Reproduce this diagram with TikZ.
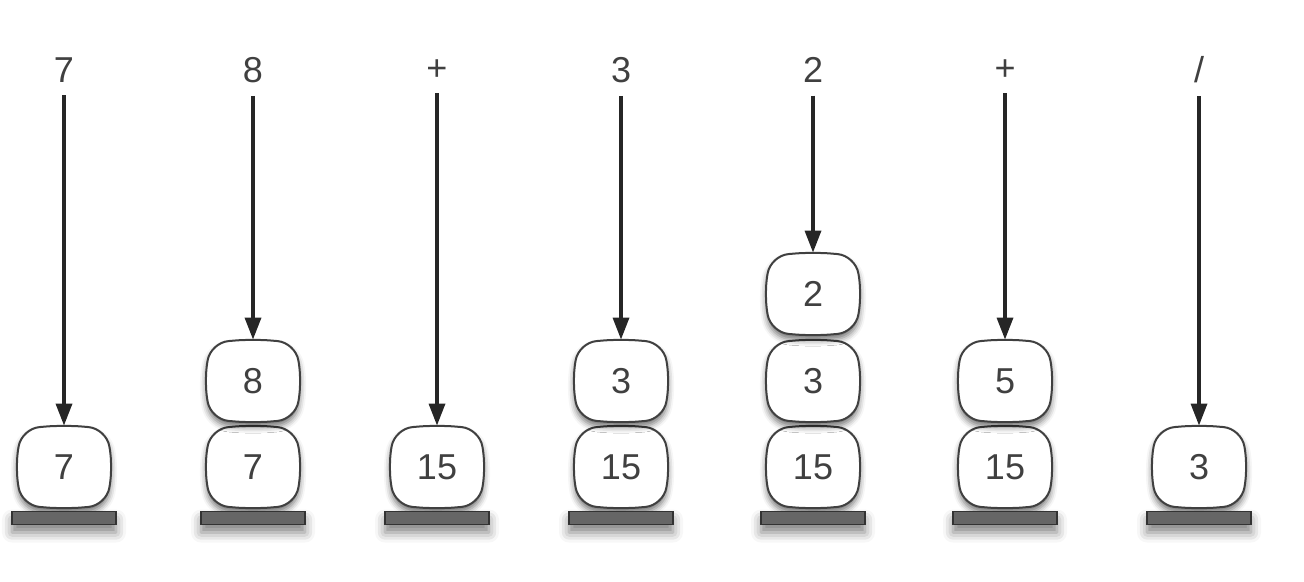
\documentclass[tikz,border=0pt]{standalone}
\usepackage{fontspec}
\setsansfont{Liberation Sans}
\usetikzlibrary{arrows.meta,calc,backgrounds,shadows.blur}

\begin{document}
\begin{tikzpicture}[x=0.5pt, y=-0.5pt,
    every node/.style={font=\sffamily\fontsize{18}{18}\selectfont, text=black!75},
    cell/.style={minimum width=42pt, minimum height=38pt, inner sep=0pt},
    barrel/.style={draw=black!75, line width=1pt, fill=white, rounded corners=9pt,
                   blur shadow={shadow xshift=0pt, shadow yshift=-2.5pt, shadow blur radius=3pt,
                                shadow opacity=55}},
    stand/.style={fill=black!60, draw=black!80, line width=0.6pt, minimum width=52pt,
                  minimum height=6.5pt, inner sep=0pt,
                  blur shadow={shadow xshift=0pt, shadow yshift=-4pt, shadow blur radius=5pt,
                               shadow opacity=50}},
    push/.style={-{Triangle[length=11pt, width=8pt]}, line width=1.7pt, black!85,
                 shorten <=3pt, shorten >=1.5pt}]
    \useasboundingbox (0,0) rectangle (1304,582);
    % input tokens
    \node (t1) at (64,70) {7};
    \node (t2) at (253,70) {8};
    \node (t3) at (437,70) {+};
    \node (t4) at (621,70) {3};
    \node (t5) at (813,70) {2};
    \node (t6) at (1005,70) {+};
    \node (t7) at (1199,70) {/};
    % stands
    \node[stand] (b1) at (64,518) {};
    \node[stand] (b2) at (253,518) {};
    \node[stand] (b3) at (437,518) {};
    \node[stand] (b4) at (621,518) {};
    \node[stand] (b5) at (813,518) {};
    \node[stand] (b6) at (1005,518) {};
    \node[stand] (b7) at (1199,518) {};
    % stack cells
    \node[cell] (c1a) at (64,467) {7};
    \node[cell] (c2a) at (253,467) {7};
    \node[cell] (c2b) at (253,381) {8};
    \node[cell] (c3a) at (437,467) {15};
    \node[cell] (c4a) at (621,467) {15};
    \node[cell] (c4b) at (621,381) {3};
    \node[cell] (c5a) at (813,467) {15};
    \node[cell] (c5b) at (813,381) {3};
    \node[cell] (c5c) at (813,294) {2};
    \node[cell] (c6a) at (1005,467) {15};
    \node[cell] (c6b) at (1005,381) {5};
    \node[cell] (c7a) at (1199,467) {3};
    % barrel outlines behind the numbers
    \begin{scope}[on background layer]
      \foreach \c in {c1a,c2a,c2b,c3a,c4a,c4b,c5a,c5b,c5c,c6a,c6b,c7a}
        \draw[barrel] (\c.north west) -- ($(\c.north)+(0,1.8pt)$) -- (\c.north east)
          -- ($(\c.east)+(3.2pt,0)$) -- (\c.south east) -- ($(\c.south)+(0,-1.8pt)$)
          -- (\c.south west) -- ($(\c.west)+(-3.2pt,0)$) -- cycle;
    \end{scope}
    % pushes
    \draw[push] (t1) -- (c1a);
    \draw[push] (t2) -- (c2b);
    \draw[push] (t3) -- (c3a);
    \draw[push] (t4) -- (c4b);
    \draw[push] (t5) -- (c5c);
    \draw[push] (t6) -- (c6b);
    \draw[push] (t7) -- (c7a);
\end{tikzpicture}
\end{document}
